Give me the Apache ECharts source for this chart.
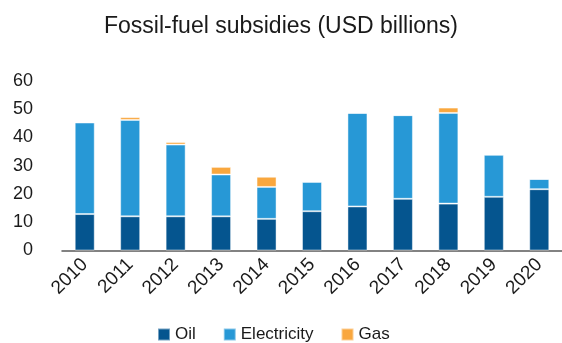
<!DOCTYPE html>
<html><head><meta charset="utf-8">
<script src="https://cdn.jsdelivr.net/npm/echarts@6/dist/echarts.min.js"></script>
<style>html,body{margin:0;padding:0;background:#fff}#c{width:562px;height:343px}</style>
</head><body><div id="c"></div>
<script>
const years = ['2010','2011','2012','2013','2014','2015','2016','2017','2018','2019','2020'];
const oil = [12.9,12.1,12.1,12.1,11.2,13.9,15.6,18.3,16.6,19.0,21.7];
const electricity = [32.4,34.1,25.4,14.8,11.3,10.4,33.1,29.6,32.1,14.9,3.6];
const gas = [0,1.0,0.9,2.7,3.6,0,0,0,1.9,0,0];
const yTicks = [0,10,20,30,40,50,60];
const FONT = '"Liberation Sans", Arial, sans-serif';
const chart = echarts.init(document.getElementById('c'));
const edge = {borderColor:'rgba(255,255,255,0.45)', borderWidth:1};
chart.setOption({
  animation:false,
  title:{text:'Fossil-fuel subsidies (USD billions)', left:'center', top:10,
    textStyle:{fontFamily:FONT, fontSize:23, fontWeight:'normal', color:'#1a1a1a'}},
  grid:{left:62, top:81, width:506, height:169.5},
  legend:{top:326, left:157, padding:0, itemWidth:12, itemHeight:12, itemGap:27, icon:'rect',
    textStyle:{fontFamily:FONT, fontSize:17, color:'#1a1a1a'}},
  xAxis:{type:'category', data:years,
    axisLine:{lineStyle:{color:'#595959', width:1.5}}, axisTick:{show:false},
    axisLabel:{rotate:45, fontFamily:FONT, fontSize:19, color:'#1a1a1a', margin:11}},
  yAxis:{type:'value', min:0, max:60, interval:10, splitLine:{show:false},
    axisLabel:{fontFamily:FONT, fontSize:18, color:'#1a1a1a', margin:29,
      formatter:v=>yTicks.includes(v)?String(v):''}},
  series:[
    {name:'Oil', type:'bar', stack:'t', data:oil, barWidth:20, itemStyle:Object.assign({color:'#05558F'},edge)},
    {name:'Electricity', type:'bar', stack:'t', data:electricity, itemStyle:Object.assign({color:'#2798D6'},edge)},
    {name:'Gas', type:'bar', stack:'t', data:gas, itemStyle:Object.assign({color:'#F9A73E'},edge)}
  ]
});
</script></body></html>
